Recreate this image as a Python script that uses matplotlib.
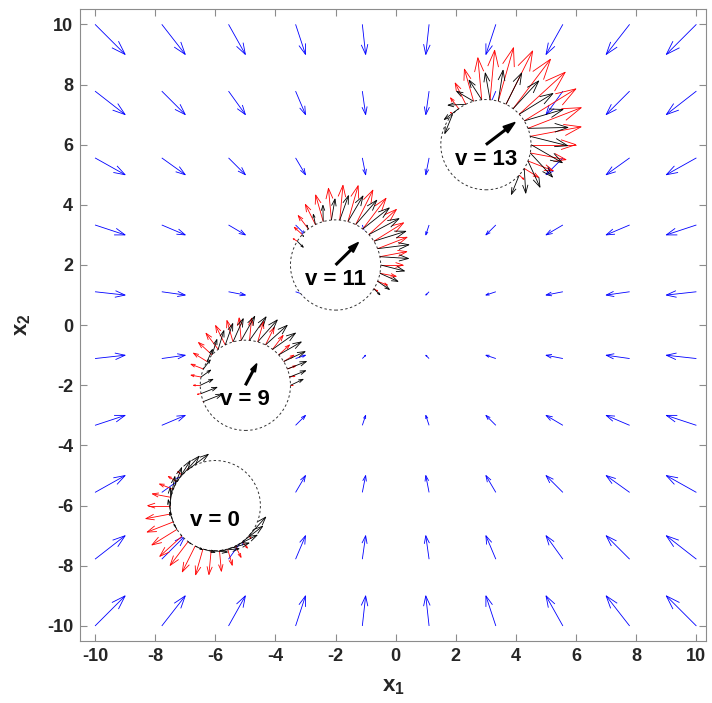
import numpy as np
import matplotlib
matplotlib.use('Agg')
import matplotlib.pyplot as plt
from matplotlib.collections import LineCollection
from matplotlib.patches import Circle, Polygon

matplotlib.rcParams.update({
    'font.family': 'Liberation Sans',
    'font.weight': 'bold',
    'axes.unicode_minus': False,
    'mathtext.fontset': 'custom',
    'mathtext.rm': 'Liberation Sans',
    'mathtext.bf': 'Liberation Sans:bold',
})

## nominal field on the grid (arrow components, already scaled)
grid_x = [-10, -7.78, -5.56, -3.33, -1.11, 1.11, 3.33, 5.56, 7.78, 10]
grid_y = [-10, -7.78, -5.56, -3.33, -1.11, 1.11, 3.33, 5.56, 7.78, 10]
u_col = [1.0, 0.78, 0.56, 0.33, 0.11, -0.11, -0.33, -0.56, -0.78, -1.0]
v_row = [1.0, 0.78, 0.56, 0.33, 0.11, -0.11, -0.33, -0.56, -0.78, -1.0]

## obstacles
obs_x = [-6, -5, -2, 3]
obs_y = [-6, -2, 2, 6]
obs_r = 1.5
obs_v = ['0', '9', '11', '13']
vel_u = [0.0, 0.38, 0.76, 0.97]
vel_v = [0.0, 0.72, 0.75, 0.74]

## boundary arrows: angle (deg), red (radial) length, black arrow components
ang_0 = [127.1, 137.6, 148.2, 158.8, 169.4, 180.0, 190.6, 201.2, 211.8, 222.4,
         232.9, 243.5, 254.1, 264.7, 275.3, 285.9, 296.5, 307.1, 317.6]
red_0 = [0.03, 0.19, 0.34, 0.49, 0.63, 0.75, 0.85, 0.93, 0.98, 1.00,
         0.99, 0.96, 0.89, 0.80, 0.69, 0.56, 0.42, 0.27, 0.11]
bu_0 = [0.67, 0.57, 0.44, 0.28, 0.13, 0.00, -0.09, -0.12, -0.10, -0.03,
        0.09, 0.24, 0.40, 0.54, 0.65, 0.71, 0.72, 0.67, 0.57]
bv_0 = [0.51, 0.63, 0.70, 0.72, 0.69, 0.60, 0.47, 0.32, 0.17, 0.03,
        -0.07, -0.12, -0.11, -0.05, 0.06, 0.20, 0.36, 0.51, 0.63]

ang_9 = [0.0, 10.6, 21.2, 31.8, 42.4, 52.9, 63.5, 74.1, 84.7, 95.3,
         105.9, 116.5, 127.1, 137.6, 148.2, 158.8, 169.4, 180.0, 190.6, 201.2]
red_9 = [0.07, 0.18, 0.29, 0.40, 0.49, 0.58, 0.65, 0.70, 0.74, 0.75,
         0.74, 0.72, 0.67, 0.61, 0.53, 0.44, 0.34, 0.23, 0.12, 0.01]
bu_9 = [0.42, 0.53, 0.63, 0.71, 0.75, 0.76, 0.72, 0.65, 0.55, 0.45,
        0.34, 0.25, 0.19, 0.16, 0.18, 0.23, 0.32, 0.42, 0.53, 0.63]
bv_9 = [0.20, 0.21, 0.25, 0.33, 0.43, 0.54, 0.65, 0.73, 0.78, 0.80,
        0.77, 0.71, 0.62, 0.51, 0.40, 0.30, 0.23, 0.20, 0.21, 0.25]

ang_11 = [328.2, 338.8, 349.4, 0.0, 10.6, 21.2, 31.8, 42.4, 52.9, 63.5,
          74.1, 84.7, 95.3, 105.9, 116.5, 127.1, 137.6, 148.2]
red_11 = [0.15, 0.35, 0.55, 0.74, 0.91, 1.05, 1.16, 1.24, 1.28, 1.28,
          1.24, 1.16, 1.06, 0.92, 0.75, 0.56, 0.36, 0.16]
bu_11 = [0.20, 0.39, 0.60, 0.79, 0.95, 1.04, 1.06, 1.00, 0.88, 0.70,
         0.50, 0.29, 0.12, -0.01, -0.07, -0.05, 0.04, 0.20]
bv_11 = [-0.20, -0.27, -0.27, -0.20, -0.06, 0.13, 0.33, 0.53, 0.70, 0.81,
         0.85, 0.81, 0.70, 0.54, 0.34, 0.13, -0.06, -0.20]

ang_13 = [317.6, 328.2, 338.8, 349.4, 0.0, 10.6, 21.2, 31.8, 42.4, 52.9,
          63.5, 74.1, 84.7, 95.3, 105.9, 116.5, 127.1, 137.6]
red_13 = [0.21, 0.56, 0.90, 1.21, 1.49, 1.72, 1.90, 2.02, 2.07, 2.06,
          1.98, 1.85, 1.65, 1.40, 1.11, 0.79, 0.45, 0.09]
bu_13 = [-0.26, 0.05, 0.40, 0.74, 1.04, 1.24, 1.33, 1.29, 1.12, 0.85,
         0.52, 0.16, -0.16, -0.42, -0.56, -0.59, -0.48, -0.26]
bv_13 = [-0.64, -0.82, -0.87, -0.80, -0.60, -0.31, 0.03, 0.38, 0.69, 0.92,
         1.04, 1.03, 0.89, 0.65, 0.33, -0.03, -0.36, -0.64]

angles = [ang_0, ang_9, ang_11, ang_13]
reds = [red_0, red_9, red_11, red_13]
blk_u = [bu_0, bu_9, bu_11, bu_13]
blk_v = [bv_0, bv_9, bv_11, bv_13]


def arrow_segs(x, y, u, v, alpha=0.33, beta=0.33):
    ## matlab quiver style: shaft plus two barbs
    x, y, u, v = [np.ravel(np.asarray(a, dtype=float)) for a in (x, y, u, v)]
    tx, ty = x + u, y + v
    segs = []
    for i in range(len(x)):
        segs.append([(x[i], y[i]), (tx[i], ty[i])])
        segs.append([(tx[i] - alpha * (u[i] + beta * v[i]), ty[i] - alpha * (v[i] - beta * u[i])),
                     (tx[i], ty[i]),
                     (tx[i] - alpha * (u[i] - beta * v[i]), ty[i] - alpha * (v[i] + beta * u[i]))])
    return segs


plt.close('all')
fig = plt.figure(figsize=(7.12, 7.03), dpi=100)
ax = fig.add_axes([80 / 712, 62 / 703, 626 / 712, 631.7 / 703])

## blue grid field
X, Y = np.meshgrid(grid_x, grid_y)
U, V = np.meshgrid(u_col, v_row)
ax.add_collection(LineCollection(arrow_segs(X, Y, U, V), colors='b', linewidths=0.6, zorder=1))

for i in range(len(obs_x)):
    cx, cy = obs_x[i], obs_y[i]
    ax.add_patch(Circle((cx, cy), obs_r, facecolor='white', edgecolor='0.2',
                        linestyle=(0, (2.5, 2.5)), linewidth=0.7, zorder=2))
    th = np.radians(angles[i])
    px = cx + obs_r * np.cos(th)
    py = cy + obs_r * np.sin(th)
    L = np.asarray(reds[i])
    ax.add_collection(LineCollection(arrow_segs(px, py, L * np.cos(th), L * np.sin(th)),
                                     colors='r', linewidths=0.6, zorder=3))
    ax.add_collection(LineCollection(arrow_segs(px, py, blk_u[i], blk_v[i]),
                                     colors='k', linewidths=0.6, zorder=4))

    ## obstacle velocity
    if vel_u[i] != 0 or vel_v[i] != 0:
        u, v = vel_u[i], vel_v[i]
        tx, ty = cx + u, cy + v
        a, b = 0.33, 0.33
        ax.plot([cx, tx - 0.5 * a * u], [cy, ty - 0.5 * a * v], color='k', lw=2.2,
                solid_capstyle='butt', zorder=5)
        ax.add_patch(Polygon([(tx - a * (u + b * v), ty - a * (v - b * u)), (tx, ty),
                              (tx - a * (u - b * v), ty - a * (v + b * u))],
                             closed=True, facecolor='k', edgecolor='k', lw=1.0, zorder=5))
    ax.text(cx, cy - 0.48, 'v = ' + obs_v[i], ha='center', va='center',
            fontsize=16, fontweight='bold', color='k', zorder=6)

ax.set_xlim([-10.5, 10.32])
ax.set_ylim([-10.5, 10.5])
ax.set_xticks(range(-10, 11, 2))
ax.set_yticks(range(-10, 11, 2))
ax.tick_params(direction='in', length=5, width=0.8, color='0.55', labelsize=13,
               labelcolor='#262626', top=True, right=True, pad=5)
for lab in ax.get_xticklabels() + ax.get_yticklabels():
    lab.set_fontweight('bold')
for sp in ax.spines.values():
    sp.set_color('0.55')
    sp.set_linewidth(0.8)

ax.set_xlabel(r'$\mathbf{x}_\mathbf{1}$', fontsize=16, color='#262626', labelpad=8)
ax.set_ylabel(r'$\mathbf{x}_\mathbf{2}$', fontsize=16, color='#262626', labelpad=10)

fig.savefig('out.png', dpi=100)
